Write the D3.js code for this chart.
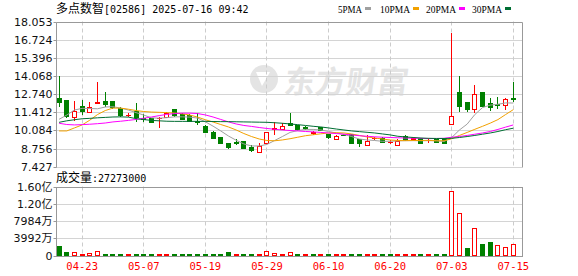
<!DOCTYPE html>
<html>
<head>
<meta charset="utf-8">
<script src="https://cdn.jsdelivr.net/npm/d3@7"></script>
<style>
  body { margin: 0; background: #fff; }
  svg { display: block; }
</style>
</head>
<body>
<div id="chart"></div>
<script>
// trading days shown (HK market)
var dates = ['04-16','04-17','04-22','04-23','04-24','04-25','04-28','04-29','04-30',
  '05-02','05-06','05-07','05-08','05-09','05-12','05-13','05-14','05-15','05-16','05-19',
  '05-20','05-21','05-22','05-23','05-26','05-27','05-28','05-29','05-30',
  '06-02','06-03','06-04','06-05','06-06','06-09','06-10','06-11','06-12','06-13','06-16',
  '06-17','06-18','06-19','06-20','06-23','06-24','06-25','06-26','06-27','06-30',
  '07-02','07-03','07-04','07-07','07-08','07-09','07-10','07-11','07-14','07-15'];

var open = [12.43,12.31,11.09,11.87,11.45,12.09,12.26,12.24,11.70,11.21,
  11.53,10.99,11.01,10.97,11.04,11.63,11.32,11.25,10.75,10.43,
  10.00,9.59,9.15,9.22,9.32,8.90,8.53,9.17,10.17,10.17,
  10.61,10.49,10.34,9.92,10.32,9.83,9.44,9.78,9.83,9.44,
  9.02,9.50,9.51,9.21,9.02,9.68,9.44,9.51,9.37,9.44,
  9.51,10.55,12.92,12.19,11.63,12.92,12.07,12.02,11.94,12.44];
var high = [14.07,12.34,12.26,12.31,12.19,13.65,12.92,12.26,11.82,11.34,
  12.07,11.26,11.01,11.04,11.45,11.65,11.36,11.28,11.34,10.48,
  10.05,9.61,9.17,9.44,9.34,9.02,9.15,10.00,10.69,10.61,
  11.38,10.52,10.41,10.07,10.36,9.86,9.72,9.83,9.86,9.46,
  9.76,9.59,9.63,9.39,9.46,9.72,9.63,9.53,9.51,9.46,
  9.53,17.23,14.07,12.20,13.41,12.92,12.43,12.51,12.43,13.65];
var low = [11.82,10.97,10.79,11.21,11.34,12.07,11.82,11.65,11.09,11.04,
  10.72,10.72,10.68,10.28,10.99,11.09,10.84,10.77,10.48,9.98,
  9.46,9.12,8.73,9.04,8.73,8.53,8.49,9.15,9.76,10.16,
  10.47,10.05,10.12,9.76,10.07,9.44,9.43,9.68,9.07,8.90,
  9.02,9.39,9.22,9.07,9.02,9.35,9.34,9.13,9.15,9.20,
  9.13,10.55,11.45,11.45,11.38,11.77,11.53,11.65,11.58,12.19];
var close = [12.19,11.14,11.50,11.53,11.77,12.13,11.99,11.77,11.21,11.25,
  11.04,10.94,10.72,11.01,11.34,11.21,10.92,10.81,10.70,10.00,
  9.51,9.15,8.90,9.17,8.80,8.66,8.97,9.95,10.23,10.41,
  10.49,10.19,10.29,9.95,10.12,9.59,9.68,9.73,9.19,9.15,
  9.32,9.52,9.26,9.23,9.34,9.39,9.51,9.15,9.39,9.22,
  9.15,11.16,11.87,11.63,12.75,11.87,11.77,11.98,12.36,12.41];

var volume = [23000000,9200000,8500000,4500000,4800000,11500000,3800000,3500000,3600000,3400000,
  3700000,3200000,3400000,3600000,3500000,3300000,3400000,3200000,3100000,3600000,
  3800000,3500000,9000000,3600000,3400000,3300000,3800000,11500000,6500000,3800000,
  7000000,3300000,3000000,3200000,3400000,3300000,3100000,3200000,3500000,3300000,
  3400000,3200000,3300000,3100000,3400000,3300000,3200000,3500000,3300000,3400000,
  3500000,149400000,98000000,17700000,63600000,27600000,32200000,24500000,20000000,27273000];

var ma5 = [10.90,11.21,11.58,11.70,11.69,11.67,11.80,11.82,11.72,11.58,
  11.39,11.21,11.01,10.98,11.02,11.08,11.08,11.06,10.99,10.72,
  10.40,10.05,9.68,9.37,9.10,8.95,8.95,9.06,9.35,9.64,
  9.94,10.08,10.16,10.16,10.12,10.01,9.90,9.79,9.64,9.46,
  9.39,9.35,9.29,9.29,9.32,9.34,9.34,9.33,9.34,9.33,
  9.28,9.57,10.12,10.55,11.25,11.76,11.94,12.00,12.10,12.09];
var ma10 = [10.05,10.05,10.27,10.49,10.84,11.25,11.54,11.72,11.72,11.64,
  11.54,11.47,11.43,11.41,11.39,11.36,11.30,11.21,11.06,10.87,
  10.70,10.52,10.34,10.12,9.86,9.64,9.46,9.35,9.33,9.39,
  9.48,9.59,9.70,9.77,9.84,9.90,9.92,9.90,9.83,9.72,
  9.61,9.53,9.46,9.39,9.35,9.34,9.35,9.35,9.36,9.33,
  9.33,9.48,9.72,9.94,10.17,10.39,10.62,10.88,11.25,11.61];
var ma20 = [10.61,10.52,10.49,10.51,10.54,10.58,10.63,10.71,10.76,10.82,
  10.89,10.98,11.07,11.17,11.26,11.32,11.35,11.35,11.32,11.22,
  11.07,10.89,10.71,10.56,10.45,10.38,10.30,10.23,10.17,10.12,
  10.08,10.05,10.01,9.98,9.94,9.90,9.86,9.81,9.76,9.70,
  9.66,9.62,9.59,9.57,9.55,9.53,9.52,9.51,9.49,9.50,
  9.51,9.59,9.64,9.72,9.81,9.90,10.01,10.16,10.33,10.49];
var ma30 = [10.68,10.79,10.87,10.94,10.97,11.01,11.04,11.07,11.08,11.06,
  10.95,10.88,10.82,10.79,10.76,10.75,10.75,10.75,10.75,10.75,
  10.74,10.73,10.73,10.72,10.71,10.70,10.69,10.68,10.65,10.61,
  10.56,10.51,10.45,10.39,10.34,10.27,10.19,10.12,10.05,10.00,
  9.95,9.90,9.83,9.76,9.66,9.61,9.57,9.53,9.51,9.50,
  9.50,9.51,9.57,9.64,9.72,9.81,9.90,10.01,10.14,10.25];

var priceTicks = [18.053, 16.724, 15.396, 14.068, 12.740, 11.412, 10.084, 8.756, 7.427];
var volTicks = [0, 39920000, 79840000, 119760000, 159680000];
var volTickLabels = ['0', '3992万', '7984万', '1.20亿', '1.60亿'];
var dateTicks = ['04-23', '05-07', '05-19', '05-29', '06-10', '06-20', '07-03', '07-15'];

var maNames = ['5PMA', '10PMA', '20PMA', '30PMA'];
var maColors = ['#a0a0a0', '#f2a100', '#ff00ff', '#006e33'];

var RED = '#ff0000', GREEN = '#008000';
var W = 578, H = 276;
var left = 56, right = 522;
var top1 = 21.5, bot1 = 166.8, top2 = 186.5, bot2 = 255.5;

var svg = d3.select('#chart')
  .append('svg')
    .attr('width', W)
    .attr('height', H);

// scales
var x = d3.scaleBand()
  .domain(d3.range(dates.length))
  .range([55.2, 517.2]);
var bw = x.bandwidth();
function cx(i) { return Math.floor(x(i) + bw / 2); }

var y = d3.scaleLinear()
  .domain([7.427, 18.053])
  .range([bot1, top1]);

var yv = d3.scaleLinear()
  .domain([0, 159680000])
  .range([bot2, top2]);

function px(v) { return Math.round(v) + 0.5; }

// watermark
var wm = svg.append('g').attr('fill', '#e4e4e4');
wm.append('circle').attr('cx', 264).attr('cy', 79).attr('r', 14);
wm.append('path')
  .attr('d', 'M256,72 L270,72 L262,86 Z')
  .attr('fill', '#fff');
wm.append('text')
  .attr('x', 284)
  .attr('y', 93)
  .attr('font-family', 'Noto Sans CJK SC')
  .attr('font-weight', 'bold')
  .attr('font-size', '31px')
  .attr('transform', 'skewX(-8) translate(12,0)')
  .text('东方财富');

// horizontal grid
var grid = svg.append('g');
grid.selectAll('.hg1')
  .data(priceTicks.slice(1))
  .enter().append('line')
    .attr('x1', left).attr('x2', right)
    .attr('y1', function(d) { return px(y(d)); })
    .attr('y2', function(d) { return px(y(d)); })
    .attr('stroke', '#d4d4d4');
grid.selectAll('.hg2')
  .data(volTicks.slice(1, 4))
  .enter().append('line')
    .attr('x1', left).attr('x2', right)
    .attr('y1', function(d) { return px(yv(d)); })
    .attr('y2', function(d) { return px(yv(d)); })
    .attr('stroke', '#d4d4d4');

// vertical dashed grid
var tickIdx = dateTicks.map(function(d) { return dates.indexOf(d); });
[[top1, bot1], [top2, bot2]].forEach(function(r) {
  grid.selectAll(null)
    .data(tickIdx)
    .enter().append('line')
      .attr('x1', function(i) { return cx(i) + 0.5; })
      .attr('x2', function(i) { return cx(i) + 0.5; })
      .attr('y1', r[0]).attr('y2', r[1])
      .attr('stroke', '#cccccc')
      .attr('stroke-dasharray', '4,3');
});

// frames
svg.append('path')
  .attr('d', 'M' + (left + 0.5) + ',' + px(bot1) + 'V' + px(top1) + 'H' + (right + 0.5) + 'V' + px(bot1))
  .attr('fill', 'none').attr('stroke', '#999');
svg.append('rect')
  .attr('x', left + 0.5).attr('y', px(top2))
  .attr('width', right - left).attr('height', Math.round(bot2) - Math.round(top2))
  .attr('fill', 'none').attr('stroke', '#999');

// y axes
var axisFont = 'DejaVu Sans';
var yAxis = svg.append('g')
  .attr('transform', 'translate(' + (left + 0.5) + ',0)')
  .call(d3.axisLeft(y).tickValues(priceTicks).tickFormat(d3.format('.3f')).tickSize(3).tickPadding(1));
var yvAxis = svg.append('g')
  .attr('transform', 'translate(' + (left + 0.5) + ',0)')
  .call(d3.axisLeft(yv).tickValues(volTicks)
    .tickFormat(function(d, i) { return volTickLabels[i]; }).tickSize(3).tickPadding(1));
[yAxis, yvAxis].forEach(function(a) {
  a.select('.domain').remove();
  a.selectAll('.tick line').attr('stroke', '#999');
  a.selectAll('.tick text')
    .attr('font-family', axisFont + ', Noto Sans CJK SC')
    .attr('font-size', '11px')
    .attr('fill', '#111');
});
yAxis.selectAll('.tick').attr('transform', function(d) { return 'translate(0,' + px(y(d)) + ')'; });
yvAxis.selectAll('.tick').attr('transform', function(d) { return 'translate(0,' + px(yv(d)) + ')'; });

// x axis labels
var xAxis = svg.append('g')
  .attr('transform', 'translate(0,' + bot2 + ')')
  .call(d3.axisBottom(x).tickValues(tickIdx)
    .tickFormat(function(i) { return dates[i]; }).tickSize(0).tickPadding(7));
xAxis.select('.domain').remove();
xAxis.selectAll('.tick text')
  .attr('font-family', 'DejaVu Sans Mono')
  .attr('font-size', '10.5px')
  .attr('fill', RED);

// candles
var candles = d3.range(dates.length).map(function(i) {
  return { i: i, o: open[i], h: high[i], l: low[i], c: close[i] };
});
var cg = svg.append('g');
candles.forEach(function(d) {
  var up = d.c >= d.o;
  var col = up ? RED : GREEN;
  var c0 = cx(d.i);
  var t = Math.round(y(Math.max(d.o, d.c)));
  var b = Math.round(y(Math.min(d.o, d.c)));
  cg.append('line')
    .attr('x1', c0 + 0.5).attr('x2', c0 + 0.5)
    .attr('y1', Math.round(y(d.h))).attr('y2', Math.round(y(d.l)))
    .attr('stroke', col);
  if (b - t < 1) {
    cg.append('line')
      .attr('x1', c0 - 2).attr('x2', c0 + 3)
      .attr('y1', t + 0.5).attr('y2', t + 0.5)
      .attr('stroke', col);
  } else if (up) {
    cg.append('rect')
      .attr('x', c0 - 1.5).attr('y', t + 0.5)
      .attr('width', 4).attr('height', b - t)
      .attr('fill', '#fff').attr('stroke', col);
  } else {
    cg.append('rect')
      .attr('x', c0 - 2).attr('y', t)
      .attr('width', 5).attr('height', b - t + 1)
      .attr('fill', col);
  }
});

// moving averages
var line = d3.line()
  .x(function(d, i) { return x(i) + bw / 2; })
  .y(function(d) { return y(d); });
[ma5, ma10, ma20, ma30].forEach(function(s, k) {
  svg.append('path')
    .datum(s)
    .attr('d', line)
    .attr('fill', 'none')
    .attr('stroke', maColors[k])
    .attr('stroke-width', 1);
});

// volume bars (colour by close vs previous close)
var vg = svg.append('g');
volume.forEach(function(v, i) {
  var up = i === 0 ? close[i] >= open[i] : close[i] >= close[i - 1];
  var col = up ? RED : GREEN;
  var c0 = cx(i);
  var t = Math.round(yv(v));
  var b = Math.round(bot2);
  if (b - t < 3) {
    vg.append('rect')
      .attr('x', c0 - 2).attr('y', t)
      .attr('width', 5).attr('height', Math.max(1, b - t))
      .attr('fill', col);
  } else if (up) {
    vg.append('rect')
      .attr('x', c0 - 1.5).attr('y', t + 0.5)
      .attr('width', 4).attr('height', b - t - 1)
      .attr('fill', '#fff').attr('stroke', col);
  } else {
    vg.append('rect')
      .attr('x', c0 - 2).attr('y', t)
      .attr('width', 5).attr('height', b - t)
      .attr('fill', col);
  }
});

// title
var title = svg.append('text')
  .attr('x', 56).attr('y', 13)
  .attr('fill', '#000');
title.append('tspan').attr('font-family', 'Noto Sans CJK SC').attr('font-size', '12px').text('多点数智');
title.append('tspan').attr('font-family', 'DejaVu Sans Mono').attr('font-size', '10px')
  .text('[02586] 2025-07-16 09:42');

// volume label
var vt = svg.append('text')
  .attr('x', 56).attr('y', 182)
  .attr('fill', '#000');
vt.append('tspan').attr('font-family', 'Noto Sans CJK SC').attr('font-size', '12px').text('成交量');
vt.append('tspan').attr('font-family', 'DejaVu Sans Mono').attr('font-size', '10px')
  .text(':' + volume[volume.length - 1]);

// legend
var legX = [338, 380, 426, 472];
var legW = [24, 30, 30, 30];
var leg = svg.append('g');
maNames.forEach(function(n, k) {
  leg.append('text')
    .attr('x', legX[k]).attr('y', 13)
    .attr('font-family', 'Liberation Serif')
    .attr('font-size', '11px')
    .attr('textLength', legW[k])
    .attr('lengthAdjust', 'spacingAndGlyphs')
    .attr('fill', '#000')
    .text(n);
  leg.append('rect')
    .attr('x', legX[k] + legW[k] + 3).attr('y', 7)
    .attr('width', 6).attr('height', 3)
    .attr('fill', maColors[k]);
});
</script>
</body>
</html>
